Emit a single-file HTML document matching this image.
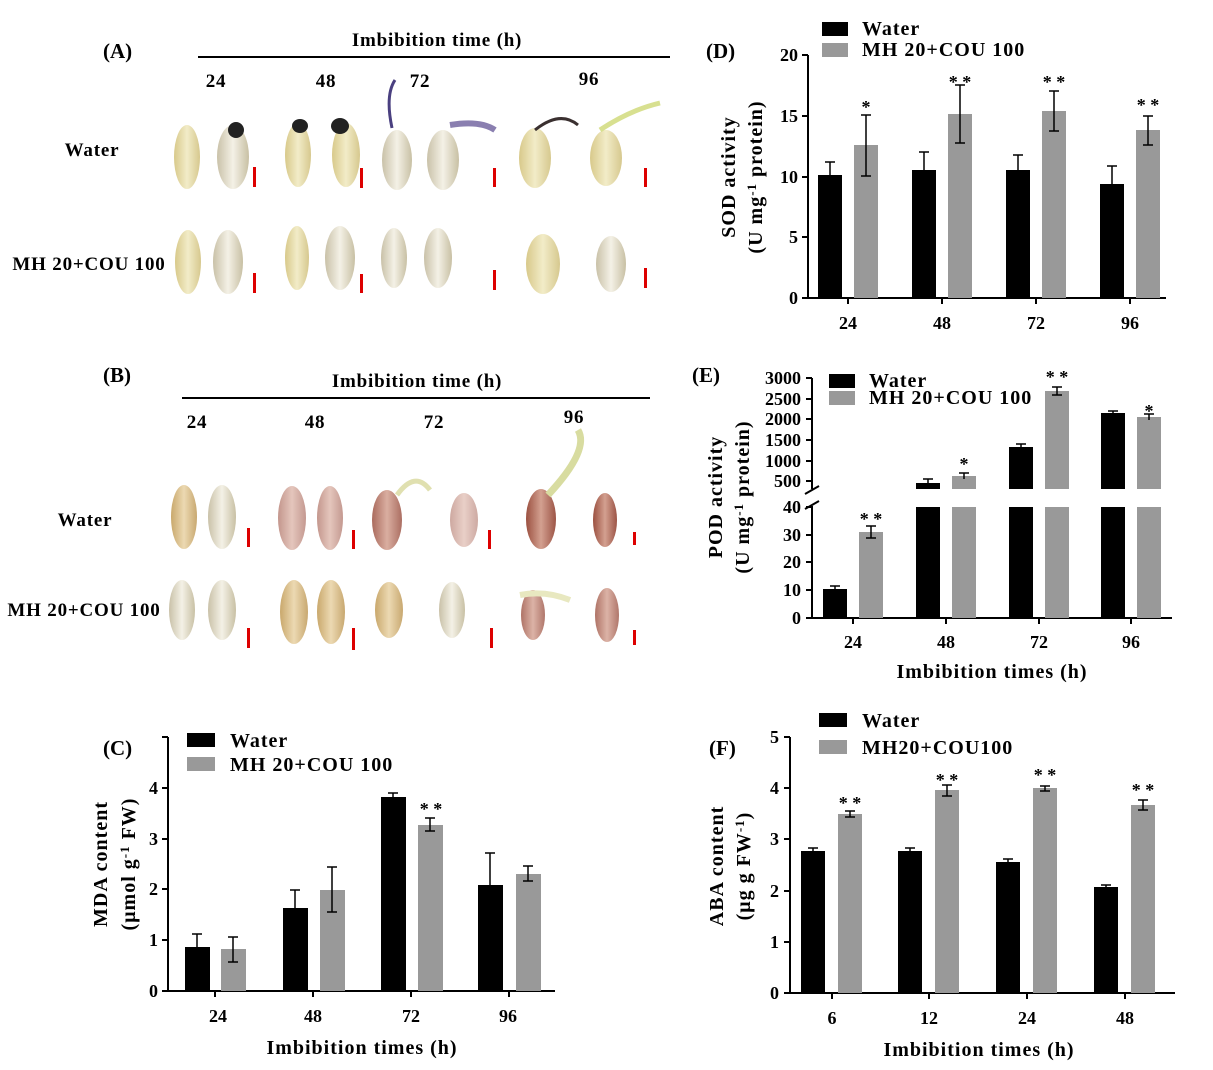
<!DOCTYPE html>
<html><head><meta charset="utf-8"><style>
body{margin:0;background:#fff}
svg{display:block;font-family:"Liberation Serif",serif;font-weight:bold}
.lg{font-size:20px;letter-spacing:1px}
.ph{font-size:19px;letter-spacing:0.8px}
.tk{font-size:18px}
</style></head><body>
<svg width="1213" height="1070" viewBox="0 0 1213 1070" xmlns="http://www.w3.org/2000/svg">
<defs>
<linearGradient id="sy" x1="0" x2="1"><stop offset="0" stop-color="#d8c98a"/><stop offset="0.5" stop-color="#f2ecc8"/><stop offset="1" stop-color="#d6c88e"/></linearGradient>
<linearGradient id="sw" x1="0" x2="1"><stop offset="0" stop-color="#c9c1a8"/><stop offset="0.5" stop-color="#f4f1e6"/><stop offset="1" stop-color="#c8c0a4"/></linearGradient>
<linearGradient id="sb" x1="0" x2="1"><stop offset="0" stop-color="#c9a86c"/><stop offset="0.5" stop-color="#ecd9b2"/><stop offset="1" stop-color="#c8a870"/></linearGradient>
<linearGradient id="sr" x1="0" x2="1"><stop offset="0" stop-color="#9b5040"/><stop offset="0.5" stop-color="#d3a090"/><stop offset="1" stop-color="#9c5446"/></linearGradient>
</defs>

<!-- Panel A -->
<text x="103" y="58" font-size="21">(A)</text>
<line x1="198" y1="57" x2="670" y2="57" stroke="#000" stroke-width="2"/>
<text x="437" y="46" class="ph" text-anchor="middle">Imbibition time (h)</text>
<text x="216" y="87" class="ph" text-anchor="middle">24</text>
<text x="326" y="87" class="ph" text-anchor="middle">48</text>
<text x="420" y="87" class="ph" text-anchor="middle">72</text>
<text x="589" y="85" class="ph" text-anchor="middle">96</text>
<text x="92" y="156" class="ph" text-anchor="middle">Water</text>
<text x="89" y="270" class="ph" text-anchor="middle">MH 20+COU 100</text>
<g>
<ellipse cx="187" cy="157" rx="13" ry="32" fill="url(#sy)"/>
<ellipse cx="233" cy="157" rx="16" ry="32" fill="url(#sw)"/>
<ellipse cx="236" cy="130" rx="8" ry="8" fill="#222"/>
<ellipse cx="298" cy="155" rx="13" ry="32" fill="url(#sy)"/>
<ellipse cx="346" cy="155" rx="14" ry="32" fill="url(#sy)"/>
<ellipse cx="340" cy="126" rx="9" ry="8" fill="#222"/><ellipse cx="300" cy="126" rx="8" ry="7" fill="#222"/>
<ellipse cx="397" cy="160" rx="15" ry="30" fill="url(#sw)"/>
<path d="M392 128 Q385 95 395 80" stroke="#4a4080" stroke-width="3" fill="none"/>
<ellipse cx="443" cy="160" rx="16" ry="30" fill="url(#sw)"/>
<path d="M450 125 Q480 120 495 130" stroke="#8a7fb0" stroke-width="6" fill="none"/>
<ellipse cx="535" cy="158" rx="16" ry="30" fill="url(#sy)"/>
<path d="M535 130 Q560 110 578 125" stroke="#3a3030" stroke-width="3" fill="none"/>
<ellipse cx="606" cy="158" rx="16" ry="28" fill="url(#sy)"/>
<path d="M600 130 Q630 110 660 103" stroke="#d8e090" stroke-width="5" fill="none"/>
<ellipse cx="188" cy="262" rx="13" ry="32" fill="url(#sy)"/>
<ellipse cx="228" cy="262" rx="15" ry="32" fill="url(#sw)"/>
<ellipse cx="297" cy="258" rx="12" ry="32" fill="url(#sy)"/>
<ellipse cx="340" cy="258" rx="15" ry="32" fill="url(#sw)"/>
<ellipse cx="394" cy="258" rx="13" ry="30" fill="url(#sw)"/>
<ellipse cx="438" cy="258" rx="14" ry="30" fill="url(#sw)"/>
<ellipse cx="543" cy="264" rx="17" ry="30" fill="url(#sy)"/>
<ellipse cx="611" cy="264" rx="15" ry="28" fill="url(#sw)"/>
</g>
<g fill="#d00">
<rect x="253" y="167" width="3" height="20"/><rect x="360" y="168" width="3" height="20"/><rect x="493" y="168" width="3" height="19"/><rect x="644" y="168" width="3" height="19"/>
<rect x="253" y="273" width="3" height="20"/><rect x="360" y="274" width="3" height="19"/><rect x="493" y="270" width="3" height="20"/><rect x="644" y="268" width="3" height="20"/>
</g>

<!-- Panel B -->
<text x="103" y="382" font-size="21">(B)</text>
<line x1="182" y1="398" x2="650" y2="398" stroke="#000" stroke-width="2"/>
<text x="417" y="387" class="ph" text-anchor="middle">Imbibition time (h)</text>
<text x="197" y="428" class="ph" text-anchor="middle">24</text>
<text x="315" y="428" class="ph" text-anchor="middle">48</text>
<text x="434" y="428" class="ph" text-anchor="middle">72</text>
<text x="574" y="423" class="ph" text-anchor="middle">96</text>
<text x="85" y="526" class="ph" text-anchor="middle">Water</text>
<text x="84" y="616" class="ph" text-anchor="middle">MH 20+COU 100</text>
<ellipse cx="184" cy="517" rx="13" ry="32" fill="url(#sb)"/>
<ellipse cx="222" cy="517" rx="14" ry="32" fill="url(#sw)"/>
<ellipse cx="292" cy="518" rx="14" ry="32" fill="url(#sr)" opacity="0.6"/>
<ellipse cx="330" cy="518" rx="13" ry="32" fill="url(#sr)" opacity="0.6"/>
<ellipse cx="387" cy="520" rx="15" ry="30" fill="url(#sr)" opacity="0.85"/>
<path d="M397 495 Q415 470 430 490" stroke="#e0e0b0" stroke-width="5" fill="none"/>
<ellipse cx="464" cy="520" rx="14" ry="27" fill="url(#sr)" opacity="0.5"/>
<ellipse cx="541" cy="519" rx="15" ry="30" fill="url(#sr)"/>
<path d="M548 495 Q590 450 578 430" stroke="#d8dca0" stroke-width="7" fill="none"/>
<ellipse cx="605" cy="520" rx="12" ry="27" fill="url(#sr)"/>
<ellipse cx="182" cy="610" rx="13" ry="30" fill="url(#sw)"/>
<ellipse cx="222" cy="610" rx="14" ry="30" fill="url(#sw)"/>
<ellipse cx="294" cy="612" rx="14" ry="32" fill="url(#sb)"/>
<ellipse cx="331" cy="612" rx="14" ry="32" fill="url(#sb)"/>
<ellipse cx="389" cy="610" rx="14" ry="28" fill="url(#sb)"/>
<ellipse cx="452" cy="610" rx="13" ry="28" fill="url(#sw)"/>
<ellipse cx="533" cy="615" rx="12" ry="25" fill="url(#sr)" opacity="0.8"/>
<path d="M520 595 Q545 590 570 600" stroke="#e8e8c0" stroke-width="6" fill="none"/>
<ellipse cx="607" cy="615" rx="12" ry="27" fill="url(#sr)" opacity="0.8"/>
<g fill="#d00">
<rect x="247" y="528" width="3" height="19"/><rect x="352" y="530" width="3" height="19"/><rect x="488" y="530" width="3" height="19"/><rect x="633" y="532" width="3" height="13"/>
<rect x="247" y="628" width="3" height="20"/><rect x="352" y="628" width="3" height="22"/><rect x="490" y="628" width="3" height="20"/><rect x="633" y="630" width="3" height="15"/>
</g>

<!-- Panel D -->
<g class="tk">
<text x="706" y="58" font-size="21">(D)</text>
<rect x="822" y="22" width="26" height="14" fill="#000"/><text x="862" y="35" class="lg">Water</text>
<rect x="822" y="43" width="26" height="14" fill="#999"/><text x="862" y="56" class="lg">MH 20+COU 100</text>
<line x1="808" y1="55" x2="808" y2="298" stroke="#000" stroke-width="2"/>
<line x1="807" y1="298" x2="1166" y2="298" stroke="#000" stroke-width="2"/>
<g stroke="#000" stroke-width="2">
<line x1="802" y1="55" x2="808" y2="55"/><line x1="802" y1="116" x2="808" y2="116"/><line x1="802" y1="177" x2="808" y2="177"/><line x1="802" y1="237" x2="808" y2="237"/><line x1="802" y1="298" x2="808" y2="298"/>
<line x1="848" y1="298" x2="848" y2="304"/><line x1="942" y1="298" x2="942" y2="304"/><line x1="1036" y1="298" x2="1036" y2="304"/><line x1="1130" y1="298" x2="1130" y2="304"/>
</g>
<g text-anchor="end"><text x="798" y="61">20</text><text x="798" y="122">15</text><text x="798" y="183">10</text><text x="798" y="243">5</text><text x="798" y="304">0</text></g>
<g text-anchor="middle"><text x="848" y="329">24</text><text x="942" y="329">48</text><text x="1036" y="329">72</text><text x="1130" y="329">96</text></g>
<text class="lg" transform="translate(735,177) rotate(-90)" text-anchor="middle">SOD activity</text>
<text class="lg" transform="translate(762,177) rotate(-90)" text-anchor="middle">(U mg<tspan dy="-6" font-size="13">-1</tspan><tspan dy="6"> protein)</tspan></text>
<g fill="#000"><rect x="818" y="175" width="24" height="123"/><rect x="912" y="170" width="24" height="128"/><rect x="1006" y="170" width="24" height="128"/><rect x="1100" y="184" width="24" height="114"/></g>
<g fill="#999"><rect x="854" y="145" width="24" height="153"/><rect x="948" y="114" width="24" height="184"/><rect x="1042" y="111" width="24" height="187"/><rect x="1136" y="130" width="24" height="168"/></g>
<g stroke="#000" stroke-width="1.5" fill="none">
<path d="M830 162V188M825 162H835M825 188H835"/><path d="M924 152V188M919 152H929"/><path d="M1018 155V185M1013 155H1023"/><path d="M1112 166V200M1107 166H1117M1107 200H1117"/>
<path d="M866 115V176M861 115H871M861 176H871"/><path d="M960 85V143M955 85H965M955 143H965"/><path d="M1054 91V131M1049 91H1059M1049 131H1059"/><path d="M1148 116V145M1143 116H1153M1143 145H1153"/>
</g>
<g text-anchor="middle"><text x="866" y="113">*</text><text x="960" y="88">* *</text><text x="1054" y="88">* *</text><text x="1148" y="111">* *</text></g>
</g>

<!-- Panel E -->
<g class="tk">
<text x="692" y="382" font-size="21">(E)</text>
<rect x="829" y="374" width="26" height="14" fill="#000"/><text x="869" y="387" class="lg">Water</text>
<rect x="829" y="391" width="26" height="14" fill="#999"/><text x="869" y="404" class="lg">MH 20+COU 100</text>
<line x1="812" y1="378" x2="812" y2="489" stroke="#000" stroke-width="2"/>
<line x1="812" y1="506" x2="812" y2="618" stroke="#000" stroke-width="2"/>
<line x1="805" y1="494" x2="819" y2="486" stroke="#000" stroke-width="2"/>
<line x1="805" y1="509" x2="819" y2="501" stroke="#000" stroke-width="2"/>
<line x1="811" y1="618" x2="1172" y2="618" stroke="#000" stroke-width="2"/>
<g stroke="#000" stroke-width="2">
<line x1="806" y1="378" x2="812" y2="378"/><line x1="806" y1="399" x2="812" y2="399"/><line x1="806" y1="419" x2="812" y2="419"/><line x1="806" y1="440" x2="812" y2="440"/><line x1="806" y1="461" x2="812" y2="461"/><line x1="806" y1="481" x2="812" y2="481"/>
<line x1="806" y1="507" x2="812" y2="507"/><line x1="806" y1="535" x2="812" y2="535"/><line x1="806" y1="562" x2="812" y2="562"/><line x1="806" y1="590" x2="812" y2="590"/><line x1="806" y1="618" x2="812" y2="618"/>
<line x1="853" y1="618" x2="853" y2="624"/><line x1="946" y1="618" x2="946" y2="624"/><line x1="1039" y1="618" x2="1039" y2="624"/><line x1="1131" y1="618" x2="1131" y2="624"/>
</g>
<g text-anchor="end"><text x="801" y="384">3000</text><text x="801" y="405">2500</text><text x="801" y="425">2000</text><text x="801" y="446">1500</text><text x="801" y="467">1000</text><text x="801" y="487">500</text>
<text x="801" y="513">40</text><text x="801" y="541">30</text><text x="801" y="568">20</text><text x="801" y="596">10</text><text x="801" y="624">0</text></g>
<g text-anchor="middle"><text x="853" y="648">24</text><text x="946" y="648">48</text><text x="1039" y="648">72</text><text x="1131" y="648">96</text></g>
<text x="992" y="678" class="lg" text-anchor="middle">Imbibition times (h)</text>
<text class="lg" transform="translate(722,497) rotate(-90)" text-anchor="middle">POD activity</text>
<text class="lg" transform="translate(749,497) rotate(-90)" text-anchor="middle">(U mg<tspan dy="-6" font-size="13">-1</tspan><tspan dy="6"> protein)</tspan></text>
<g fill="#000"><rect x="823" y="589" width="24" height="29"/>
<rect x="916" y="483" width="24" height="6"/><rect x="916" y="507" width="24" height="111"/>
<rect x="1009" y="447" width="24" height="42"/><rect x="1009" y="507" width="24" height="111"/>
<rect x="1101" y="413" width="24" height="76"/><rect x="1101" y="507" width="24" height="111"/></g>
<g fill="#999"><rect x="859" y="532" width="24" height="86"/>
<rect x="952" y="476" width="24" height="13"/><rect x="952" y="507" width="24" height="111"/>
<rect x="1045" y="391" width="24" height="98"/><rect x="1045" y="507" width="24" height="111"/>
<rect x="1137" y="417" width="24" height="72"/><rect x="1137" y="507" width="24" height="111"/></g>
<g stroke="#000" stroke-width="1.5" fill="none">
<path d="M835 586V592M830 586H840"/><path d="M871 526V538M866 526H876M866 538H876"/>
<path d="M928 479V487M923 479H933"/><path d="M964 473V479M959 473H969"/>
<path d="M1021 444V450M1016 444H1026"/><path d="M1057 387V395M1052 387H1062M1052 395H1062"/>
<path d="M1113 411V415M1108 411H1118"/><path d="M1149 414V420M1144 414H1154"/>
</g>
<g text-anchor="middle"><text x="871" y="525">* *</text><text x="964" y="470">*</text><text x="1057" y="383">* *</text><text x="1149" y="417">*</text></g>
</g>

<!-- Panel C -->
<g class="tk">
<text x="103" y="755" font-size="21">(C)</text>
<rect x="187" y="733" width="28" height="14" fill="#000"/><text x="230" y="747" class="lg">Water</text>
<rect x="187" y="757" width="28" height="14" fill="#999"/><text x="230" y="771" class="lg">MH 20+COU 100</text>
<line x1="168" y1="737" x2="168" y2="991" stroke="#000" stroke-width="2"/>
<line x1="167" y1="991" x2="555" y2="991" stroke="#000" stroke-width="2"/>
<g stroke="#000" stroke-width="2">
<line x1="162" y1="737" x2="168" y2="737"/><line x1="162" y1="788" x2="168" y2="788"/><line x1="162" y1="839" x2="168" y2="839"/><line x1="162" y1="889" x2="168" y2="889"/><line x1="162" y1="940" x2="168" y2="940"/><line x1="162" y1="991" x2="168" y2="991"/>
<line x1="215" y1="991" x2="215" y2="997"/><line x1="313" y1="991" x2="313" y2="997"/><line x1="411" y1="991" x2="411" y2="997"/><line x1="509" y1="991" x2="509" y2="997"/>
</g>
<g text-anchor="end"><text x="158" y="794">4</text><text x="158" y="845">3</text><text x="158" y="895">2</text><text x="158" y="946">1</text><text x="158" y="997">0</text></g>
<g text-anchor="middle"><text x="218" y="1022">24</text><text x="313" y="1022">48</text><text x="411" y="1022">72</text><text x="508" y="1022">96</text></g>
<text x="362" y="1054" class="lg" text-anchor="middle">Imbibition times (h)</text>
<text class="lg" transform="translate(107,864) rotate(-90)" text-anchor="middle">MDA content</text>
<text class="lg" transform="translate(135,864) rotate(-90)" text-anchor="middle">(μmol g<tspan dy="-6" font-size="13">-1</tspan><tspan dy="6"> FW)</tspan></text>
<g fill="#000"><rect x="185" y="947" width="25" height="44"/><rect x="283" y="908" width="25" height="83"/><rect x="381" y="797" width="25" height="194"/><rect x="478" y="885" width="25" height="106"/></g>
<g fill="#999"><rect x="221" y="949" width="25" height="42"/><rect x="320" y="890" width="25" height="101"/><rect x="418" y="825" width="25" height="166"/><rect x="516" y="874" width="25" height="117"/></g>
<g stroke="#000" stroke-width="1.5" fill="none">
<path d="M197 934V959M192 934H202M192 959H202"/><path d="M295 890V926M290 890H300M290 926H300"/><path d="M393 793V801M388 793H398"/><path d="M490 853V917M485 853H495M485 917H495"/>
<path d="M233 937V962M228 937H238M228 962H238"/><path d="M332 867V912M327 867H337M327 912H337"/><path d="M430 818V831M425 818H435M425 831H435"/><path d="M528 866V881M523 866H533M523 881H533"/>
</g>
<text x="431" y="815" text-anchor="middle">* *</text>
</g>

<!-- Panel F -->
<g class="tk">
<text x="709" y="755" font-size="21">(F)</text>
<rect x="819" y="713" width="28" height="14" fill="#000"/><text x="862" y="727" class="lg">Water</text>
<rect x="819" y="740" width="28" height="14" fill="#999"/><text x="862" y="754" class="lg">MH20+COU100</text>
<line x1="790" y1="737" x2="790" y2="993" stroke="#000" stroke-width="2"/>
<line x1="789" y1="993" x2="1175" y2="993" stroke="#000" stroke-width="2"/>
<g stroke="#000" stroke-width="2">
<line x1="784" y1="737" x2="790" y2="737"/><line x1="784" y1="788" x2="790" y2="788"/><line x1="784" y1="839" x2="790" y2="839"/><line x1="784" y1="891" x2="790" y2="891"/><line x1="784" y1="942" x2="790" y2="942"/><line x1="784" y1="993" x2="790" y2="993"/>
<line x1="832" y1="993" x2="832" y2="999"/><line x1="929" y1="993" x2="929" y2="999"/><line x1="1027" y1="993" x2="1027" y2="999"/><line x1="1125" y1="993" x2="1125" y2="999"/>
</g>
<g text-anchor="end"><text x="779" y="743">5</text><text x="779" y="794">4</text><text x="779" y="845">3</text><text x="779" y="897">2</text><text x="779" y="948">1</text><text x="779" y="999">0</text></g>
<g text-anchor="middle"><text x="832" y="1024">6</text><text x="929" y="1024">12</text><text x="1027" y="1024">24</text><text x="1125" y="1024">48</text></g>
<text x="979" y="1056" class="lg" text-anchor="middle">Imbibition times (h)</text>
<text class="lg" transform="translate(723,866) rotate(-90)" text-anchor="middle">ABA content</text>
<text class="lg" transform="translate(750,866) rotate(-90)" text-anchor="middle">(μg g FW<tspan dy="-6" font-size="13">-1</tspan><tspan dy="6">)</tspan></text>
<g fill="#000"><rect x="801" y="851" width="24" height="142"/><rect x="898" y="851" width="24" height="142"/><rect x="996" y="862" width="24" height="131"/><rect x="1094" y="887" width="24" height="106"/></g>
<g fill="#999"><rect x="838" y="814" width="24" height="179"/><rect x="935" y="790" width="24" height="203"/><rect x="1033" y="788" width="24" height="205"/><rect x="1131" y="805" width="24" height="188"/></g>
<g stroke="#000" stroke-width="1.5" fill="none">
<path d="M813 848V853M808 848H818"/><path d="M910 848V853M905 848H915"/><path d="M1008 859V865M1003 859H1013"/><path d="M1106 885V889M1101 885H1111"/>
<path d="M850 811V817M845 811H855M845 817H855"/><path d="M947 785V796M942 785H952M942 796H952"/><path d="M1045 786V791M1040 786H1050M1040 791H1050"/><path d="M1143 800V810M1138 800H1148M1138 810H1148"/>
</g>
<g text-anchor="middle"><text x="850" y="809">* *</text><text x="947" y="786">* *</text><text x="1045" y="781">* *</text><text x="1143" y="796">* *</text></g>
</g>
</svg>
</body></html>
